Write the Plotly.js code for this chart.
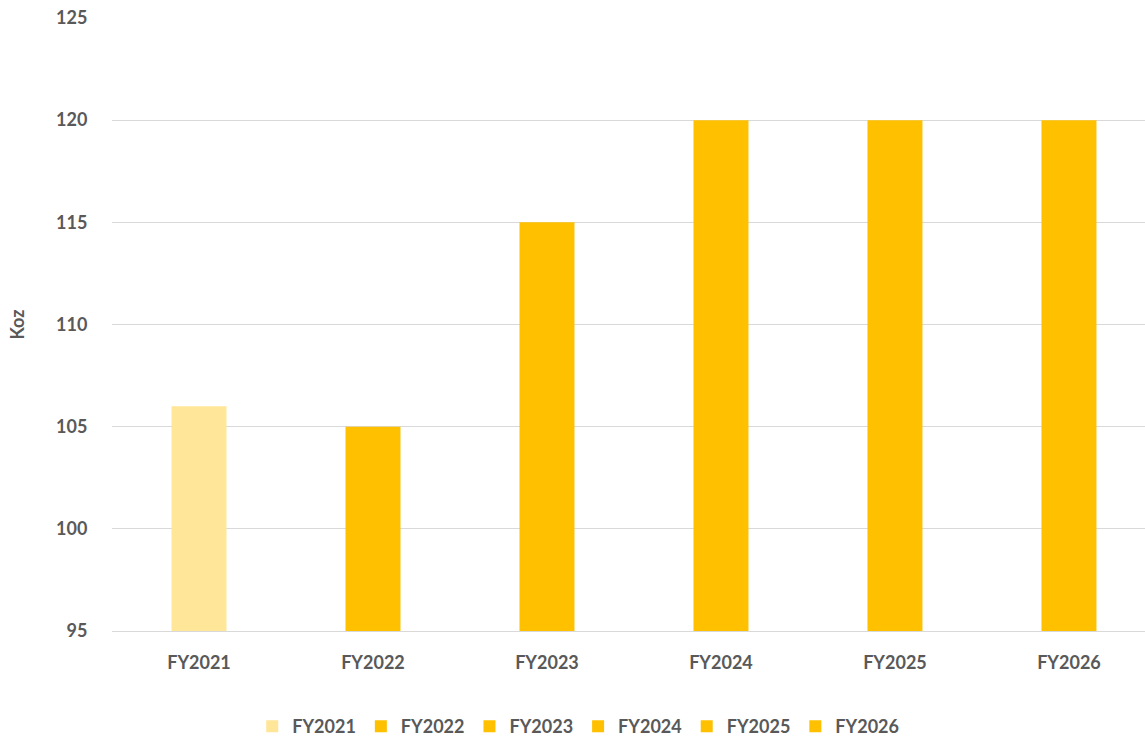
<!DOCTYPE html>
<html>
<head>
<meta charset="utf-8">
<script src="https://cdn.plot.ly/plotly-3.0.1.min.js"></script>
<style>html,body{margin:0;padding:0;background:#fff;}#chart{width:1145px;height:739px;}</style>
</head>
<body>
<div id="chart"></div>
<script>
const categories = ["FY2021", "FY2022", "FY2023", "FY2024", "FY2025", "FY2026"];
const values = [106, 105, 115, 120, 120, 120];
const colors = ["#FFE699", "#FFC000", "#FFC000", "#FFC000", "#FFC000", "#FFC000"];
const yTicks = [95, 100, 105, 110, 115, 120, 125];

const traces = categories.map((c, i) => ({
  type: "bar",
  name: c,
  x: [c],
  y: [values[i] - 95],
  base: 95,
  width: 0.316,
  marker: {color: colors[i]},
  hoverinfo: "x+y"
}));

const font = {family: "Lato, 'Open Sans', sans-serif", size: 18, color: "#595959", weight: 700};

const layout = {
  width: 1145, height: 739,
  margin: {l: 112, r: 0, t: 18, b: 108, autoexpand: false},
  paper_bgcolor: "#fff", plot_bgcolor: "#fff",
  barmode: "overlay",
  showlegend: true,
  font: font,
  xaxis: {
    type: "category",
    categoryorder: "array",
    categoryarray: categories,
    range: [-0.5, 5.437],
    showgrid: false,
    showline: true,
    linecolor: "#D9D9D9",
    linewidth: 1,
    ticks: "outside",
    ticklen: 15,
    tickcolor: "rgba(0,0,0,0)",
    tickfont: font,
    fixedrange: true
  },
  yaxis: {
    range: [95, 125],
    tickvals: yTicks,
    ticktext: yTicks.map(String),
    showgrid: true,
    gridcolor: "#D9D9D9",
    gridwidth: 1,
    zeroline: false,
    showline: false,
    ticks: "outside",
    ticklen: 20,
    tickcolor: "rgba(0,0,0,0)",
    tickfont: font,
    title: {text: "Koz", font: font, standoff: 26},
    fixedrange: true
  },
  legend: {
    orientation: "h",
    xref: "container", yref: "container",
    x: 0.505, xanchor: "center",
    y: 0.017, yanchor: "middle",
    font: font,
    itemwidth: 30,
    tracegroupgap: 0,
    traceorder: "normal"
  }
};

Plotly.newPlot("chart", traces, layout, {displayModeBar: false, staticPlot: true});
</script>
</body>
</html>
